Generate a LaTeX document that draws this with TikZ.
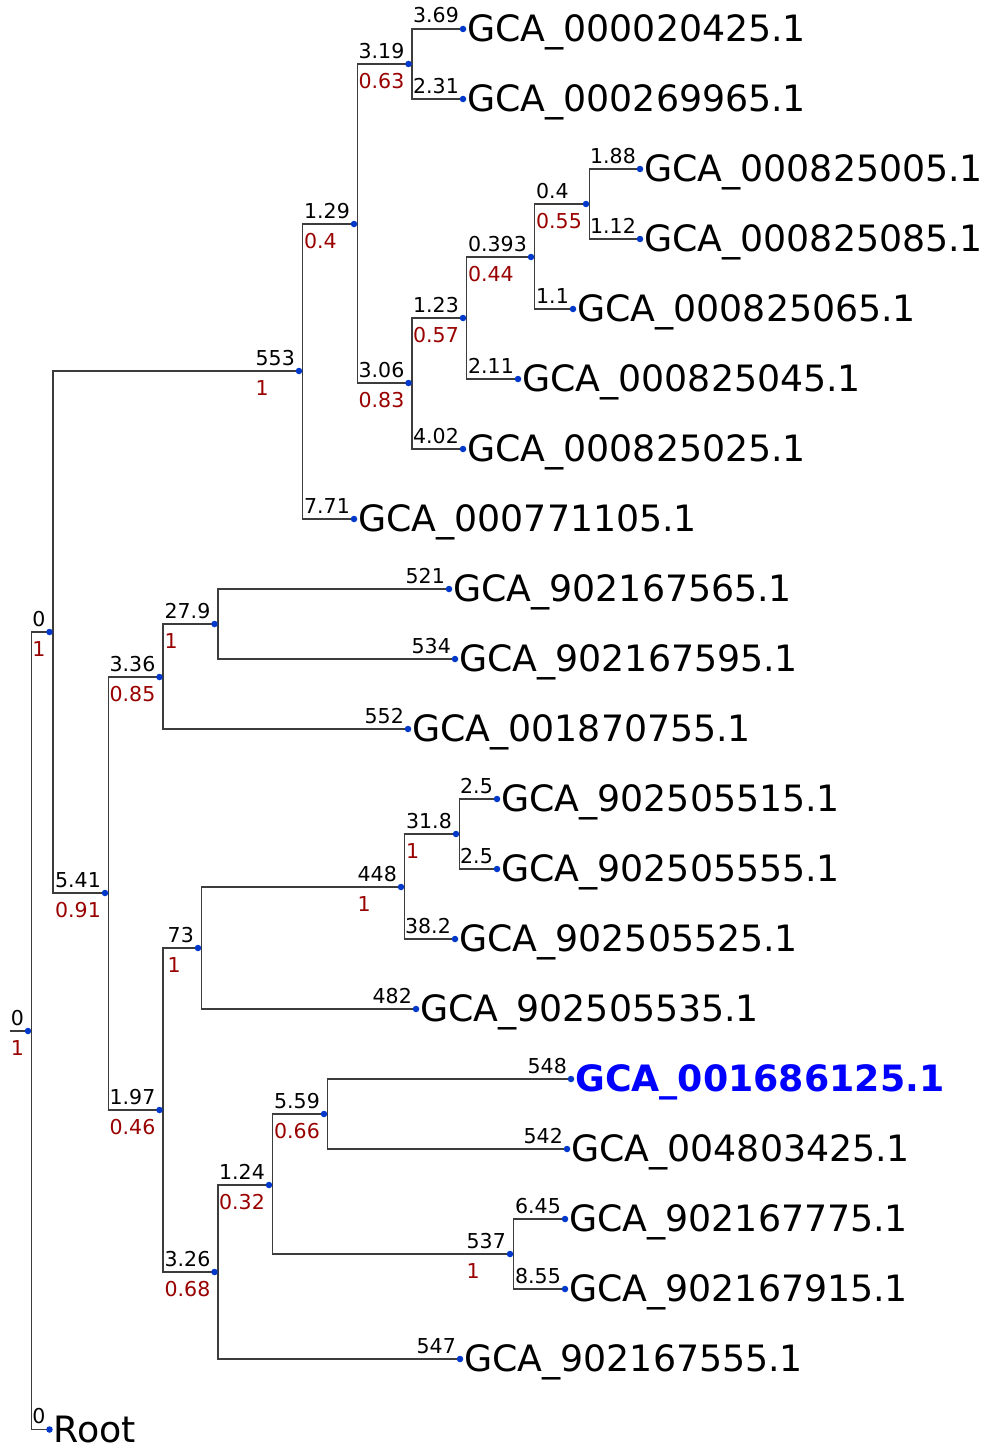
\documentclass[tikz,border=0pt]{standalone}
\usepackage{fontspec}
\setmainfont{DejaVu Sans}
\usetikzlibrary{backgrounds}
\definecolor{dotblue}{RGB}{0,56,204}
\definecolor{suppred}{RGB}{153,0,0}
\definecolor{branchgray}{RGB}{60,60,60}
\definecolor{hlblue}{RGB}{0,0,255}
\newcommand\labfont{\fontsize{20.5}{24}\selectfont}
\newcommand\leaffont{\fontsize{36.3}{40}\selectfont}
\tikzset{
 dot/.style={circle, fill=dotblue, inner sep=0pt, minimum size=6.5pt},
 toplab/.style={font=\labfont, inner sep=0pt, anchor=base west, text=black},
 pairlab/.style={font=\labfont, inner sep=0pt, anchor=north east, text=black},
 leaftext/.style={font=\leaffont, inner sep=0pt, anchor=base west},
 roottext/.style={leaftext, text depth=0pt},
 hltext/.style={leaftext, font=\leaffont\bfseries, text=hlblue},
 br/.style={draw=branchgray, line width=1.2pt},
}
\newcommand\inode[5]{%
  \node[dot] (#1) at (#2,#3) {};%
  \node[pairlab] (#1a) at ([shift={(-4pt,21pt)}]#1.center)
   {\vbox{\offinterlineskip\hbox{\vrule height15pt width0pt #4}\kern14.5pt
    \hbox{\vrule height15pt width0pt\color{suppred}#5}}};%
}
\newcommand\lnode[6]{%
  \node[dot] (#1) at (#2,#3) {};%
  \node[toplab, anchor=base east] (#1a) at ([shift={(-4pt,6pt)}]#1.center) {#4};%
  \node[#6] (#1t) at ([shift={(4pt,-12.7pt)}]#1.center) {#5};%
}
\newcommand\ci[2]{\draw[br] ([xshift=3.5pt]#1.center) |- ([xshift=3.5pt]#2.center);}
\newcommand\cl[2]{\draw[br] ([xshift=3.5pt]#1.center) |- (#2.center);}
\begin{document}
\begin{tikzpicture}[x=1pt,y=-1pt]
\useasboundingbox (0,0) rectangle (988,1445);
% internal nodes
\inode{r0}{28}{1031}{0}{1}
\inode{n1}{49.5}{632}{0}{1}
\inode{n553}{299}{371}{553}{1}
\inode{n541}{105}{893}{5.41}{0.91}
\inode{n129}{354}{224}{1.29}{0.4}
\inode{n319}{408.5}{64}{3.19}{0.63}
\inode{n306}{408.5}{383}{3.06}{0.83}
\inode{n123}{463}{318}{1.23}{0.57}
\inode{n0393}{531}{257}{0.393}{0.44}
\inode{n04}{586}{204}{0.4}{0.55}
\inode{n336}{159.5}{677}{3.36}{0.85}
\inode{n279}{214.5}{624}{27.9}{1}
\inode{n197}{159.5}{1110}{1.97}{0.46}
\inode{n73}{198}{948}{73}{1}
\inode{n448}{401}{887}{448}{1}
\inode{n318}{456}{834}{31.8}{1}
\inode{n326}{214.5}{1272}{3.26}{0.68}
\inode{n124}{269}{1185}{1.24}{0.32}
\inode{n559}{324}{1114}{5.59}{0.66}
\inode{n537}{510}{1254}{537}{1}
% leaves
\lnode{L1}{463}{29}{3.69}{GCA\_000020425.1}{leaftext}
\lnode{L2}{463}{99}{2.31}{GCA\_000269965.1}{leaftext}
\lnode{L3}{640}{169}{1.88}{GCA\_000825005.1}{leaftext}
\lnode{L4}{640}{239}{1.12}{GCA\_000825085.1}{leaftext}
\lnode{L5}{573}{309}{1.1}{GCA\_000825065.1}{leaftext}
\lnode{L6}{518}{379}{2.11}{GCA\_000825045.1}{leaftext}
\lnode{L7}{463}{449}{4.02}{GCA\_000825025.1}{leaftext}
\lnode{L8}{354}{519}{7.71}{GCA\_000771105.1}{leaftext}
\lnode{L9}{449}{589}{521}{GCA\_902167565.1}{leaftext}
\lnode{L10}{455}{659}{534}{GCA\_902167595.1}{leaftext}
\lnode{L11}{408}{729}{552}{GCA\_001870755.1}{leaftext}
\lnode{L12}{497}{799}{2.5}{GCA\_902505515.1}{leaftext}
\lnode{L13}{497}{869}{2.5}{GCA\_902505555.1}{leaftext}
\lnode{L14}{455}{939}{38.2}{GCA\_902505525.1}{leaftext}
\lnode{L15}{416}{1009}{482}{GCA\_902505535.1}{leaftext}
\lnode{L16}{571}{1079}{548}{GCA\_001686125.1}{hltext}
\lnode{L17}{567}{1149}{542}{GCA\_004803425.1}{leaftext}
\lnode{L18}{565}{1219}{6.45}{GCA\_902167775.1}{leaftext}
\lnode{L19}{565}{1289}{8.55}{GCA\_902167915.1}{leaftext}
\lnode{L20}{460}{1359}{547}{GCA\_902167555.1}{leaftext}
\lnode{LR}{49.5}{1429.5}{0}{Root}{roottext}
\begin{pgfonlayer}{background}
\coordinate (rstart) at (10,1031);
\draw[br] (rstart) -- ([xshift=3.5pt]r0.center);
\ci{r0}{n1} \cl{r0}{LR}
\ci{n1}{n553} \ci{n1}{n541}
\ci{n553}{n129} \cl{n553}{L8}
\ci{n129}{n319} \ci{n129}{n306}
\cl{n319}{L1} \cl{n319}{L2}
\ci{n306}{n123} \cl{n306}{L7}
\ci{n123}{n0393} \cl{n123}{L6}
\ci{n0393}{n04} \cl{n0393}{L5}
\cl{n04}{L3} \cl{n04}{L4}
\ci{n541}{n336} \ci{n541}{n197}
\ci{n336}{n279} \cl{n336}{L11}
\cl{n279}{L9} \cl{n279}{L10}
\ci{n197}{n73} \ci{n197}{n326}
\ci{n73}{n448} \cl{n73}{L15}
\ci{n448}{n318} \cl{n448}{L14}
\cl{n318}{L12} \cl{n318}{L13}
\ci{n326}{n124} \cl{n326}{L20}
\ci{n124}{n559} \ci{n124}{n537}
\cl{n559}{L16} \cl{n559}{L17}
\cl{n537}{L18} \cl{n537}{L19}
\end{pgfonlayer}
\end{tikzpicture}
\end{document}
